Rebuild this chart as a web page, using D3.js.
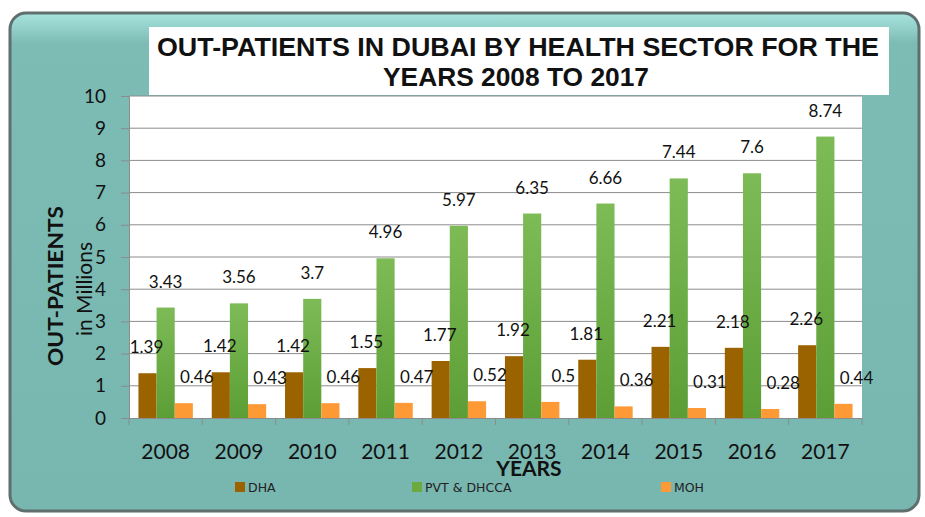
<!DOCTYPE html>
<html>
<head>
<meta charset="utf-8">
<script src="https://cdn.jsdelivr.net/npm/d3@7"></script>
<style>
  body { margin: 0; background: #fff; }
  svg { display: block; }
</style>
</head>
<body>
<div id="chart"></div>
<script>
var years = ["2008", "2009", "2010", "2011", "2012", "2013", "2014", "2015", "2016", "2017"];
var dha = [1.39, 1.42, 1.42, 1.55, 1.77, 1.92, 1.81, 2.21, 2.18, 2.26];
var pvt = [3.43, 3.56, 3.7, 4.96, 5.97, 6.35, 6.66, 7.44, 7.6, 8.74];
var moh = [0.46, 0.43, 0.46, 0.47, 0.52, 0.5, 0.36, 0.31, 0.28, 0.44];
var seriesNames = ["DHA", "PVT & DHCCA", "MOH"];
var yTicks = [0, 1, 2, 3, 4, 5, 6, 7, 8, 9, 10];

var width = 925, height = 517;
var colors = ["#9a6300", "url(#greenGrad)", "#fd9a36"];
var legendColors = ["#9a6300", "#6aaa40", "#fd9a36"];
var labelShift = [-1, 0, 13];
var font = "Lato, 'Open Sans', sans-serif";

var svg = d3.select("#chart").append("svg")
    .attr("width", width)
    .attr("height", height);

var defs = svg.append("defs");
var gg = defs.append("linearGradient").attr("id", "greenGrad")
    .attr("x1", 0).attr("y1", 0).attr("x2", 0).attr("y2", 1);
gg.append("stop").attr("offset", "0%").attr("stop-color", "#7dbb57");
gg.append("stop").attr("offset", "100%").attr("stop-color", "#5c9e35");
var bg = defs.append("linearGradient").attr("id", "panelGrad")
    .attr("x1", 0).attr("y1", 0).attr("x2", 0).attr("y2", 1);
bg.append("stop").attr("offset", "0%").attr("stop-color", "#a9e4df");
bg.append("stop").attr("offset", "6%").attr("stop-color", "#7dbcb5");
bg.append("stop").attr("offset", "100%").attr("stop-color", "#78b6b0");

// panel
svg.append("rect")
    .attr("x", 10).attr("y", 13).attr("width", 909).attr("height", 498)
    .attr("rx", 16)
    .attr("fill", "url(#panelGrad)")
    .attr("stroke", "#5f6f6d").attr("stroke-width", 3);

var margin = {left: 129, right: 862, top: 96, bottom: 418};

var x = d3.scaleBand().domain(years).range([margin.left, margin.right]);
var x1 = d3.scaleBand().domain(d3.range(3)).range([0, x.bandwidth()]).paddingOuter(0.52).paddingInner(0);
var y = d3.scaleLinear().domain([0, 10]).range([margin.bottom, margin.top]);

// plot area
svg.append("rect")
    .attr("x", margin.left).attr("y", margin.top)
    .attr("width", margin.right - margin.left).attr("height", margin.bottom - margin.top)
    .attr("fill", "#fff");

// title box
svg.append("rect")
    .attr("x", 149).attr("y", 27).attr("width", 740).attr("height", 68)
    .attr("fill", "#fff");
var title = svg.append("text")
    .attr("text-anchor", "middle")
    .attr("font-family", "'Liberation Sans', Arial, sans-serif")
    .attr("font-weight", "bold")
    .attr("font-size", 25)
    .attr("fill", "#111");
title.append("tspan").attr("x", 518).attr("y", 56)
    .attr("textLength", 722).attr("lengthAdjust", "spacingAndGlyphs")
    .text("OUT-PATIENTS IN DUBAI BY HEALTH SECTOR FOR THE");
title.append("tspan").attr("x", 516).attr("y", 86)
    .attr("textLength", 266).attr("lengthAdjust", "spacingAndGlyphs")
    .text("YEARS 2008 TO 2017");

// gridlines
svg.append("g").selectAll("line")
    .data(yTicks.slice(1))
    .enter().append("line")
    .attr("x1", margin.left).attr("x2", margin.right)
    .attr("y1", function(d) { return y(d); })
    .attr("y2", function(d) { return y(d); })
    .attr("stroke", "#8c8c8c").attr("stroke-width", 1);

// y axis
var yAxis = svg.append("g")
    .attr("transform", "translate(" + margin.left + ",0)")
    .call(d3.axisLeft(y).tickValues(yTicks).tickSize(8).tickPadding(15));
yAxis.select(".domain").attr("stroke", "#8c8c8c");
yAxis.selectAll(".tick line").attr("stroke", "#8c8c8c");
yAxis.selectAll("text")
    .attr("font-family", font)
    .attr("font-size", 19).attr("fill", "#111");

// x axis
var xAxis = svg.append("g")
    .attr("transform", "translate(0," + margin.bottom + ")")
    .call(d3.axisBottom(x).tickSize(0).tickPadding(26));
xAxis.select(".domain").attr("stroke", "#8c8c8c");
xAxis.selectAll("text")
    .attr("font-family", font)
    .attr("font-size", 21).attr("fill", "#111");
svg.append("g").selectAll("line")
    .data(years.concat(["end"]))
    .enter().append("line")
    .attr("x1", function(d, i) { return margin.left + i * x.step(); })
    .attr("x2", function(d, i) { return margin.left + i * x.step(); })
    .attr("y1", margin.bottom).attr("y2", margin.bottom + 7)
    .attr("stroke", "#8c8c8c");

// bars
var series = [dha, pvt, moh];
var groups = svg.append("g").selectAll("g")
    .data(series)
    .enter().append("g")
    .attr("fill", function(d, i) { return colors[i]; });

groups.each(function(vals, si) {
    d3.select(this).selectAll("rect")
        .data(vals)
        .enter().append("rect")
        .attr("x", function(d, i) { return x(years[i]) + x1(si); })
        .attr("y", function(d) { return y(d); })
        .attr("width", x1.bandwidth())
        .attr("height", function(d) { return y(0) - y(d); });
});

// value labels on top of all bars
var labels = svg.append("g").selectAll("g")
    .data(series)
    .enter().append("g");
labels.each(function(vals, si) {
    d3.select(this).selectAll("text")
        .data(vals)
        .enter().append("text")
        .attr("x", function(d, i) { return x(years[i]) + x1(si) + x1.bandwidth() / 2 + labelShift[si]; })
        .attr("y", function(d) { return y(d) - 20; })
        .attr("text-anchor", "middle")
        .attr("font-family", font)
        .attr("font-size", 17)
        .attr("fill", "#111")
        .text(function(d) { return d; });
});

// axis titles
svg.append("text")
    .attr("transform", "translate(63,286) rotate(-90)")
    .attr("text-anchor", "middle")
    .attr("font-family", font)
    .attr("font-weight", "bold")
    .attr("font-size", 21)
    .attr("fill", "#111")
    .attr("textLength", 160).attr("lengthAdjust", "spacingAndGlyphs")
    .text("OUT-PATIENTS");
svg.append("text")
    .attr("transform", "translate(92,289) rotate(-90)")
    .attr("text-anchor", "middle")
    .attr("font-family", font)
    .attr("font-size", 21)
    .attr("fill", "#111")
    .text("in Millions");

svg.append("text")
    .attr("x", 529).attr("y", 476)
    .attr("text-anchor", "middle")
    .attr("font-family", font)
    .attr("font-weight", "bold")
    .attr("font-size", 21)
    .attr("fill", "#111")
    .text("YEARS");

// legend
var legendX = [235, 412, 661];
var legend = svg.append("g").selectAll("g")
    .data(seriesNames)
    .enter().append("g")
    .attr("transform", function(d, i) { return "translate(" + legendX[i] + ",482)"; });
legend.append("rect")
    .attr("width", 10).attr("height", 10)
    .attr("fill", function(d, i) { return legendColors[i]; });
legend.append("text")
    .attr("x", 13).attr("y", 10)
    .attr("font-family", "'DejaVu Sans', sans-serif")
    .attr("font-size", 12.5)
    .attr("fill", "#222")
    .text(function(d) { return d; });
</script>
</body>
</html>
